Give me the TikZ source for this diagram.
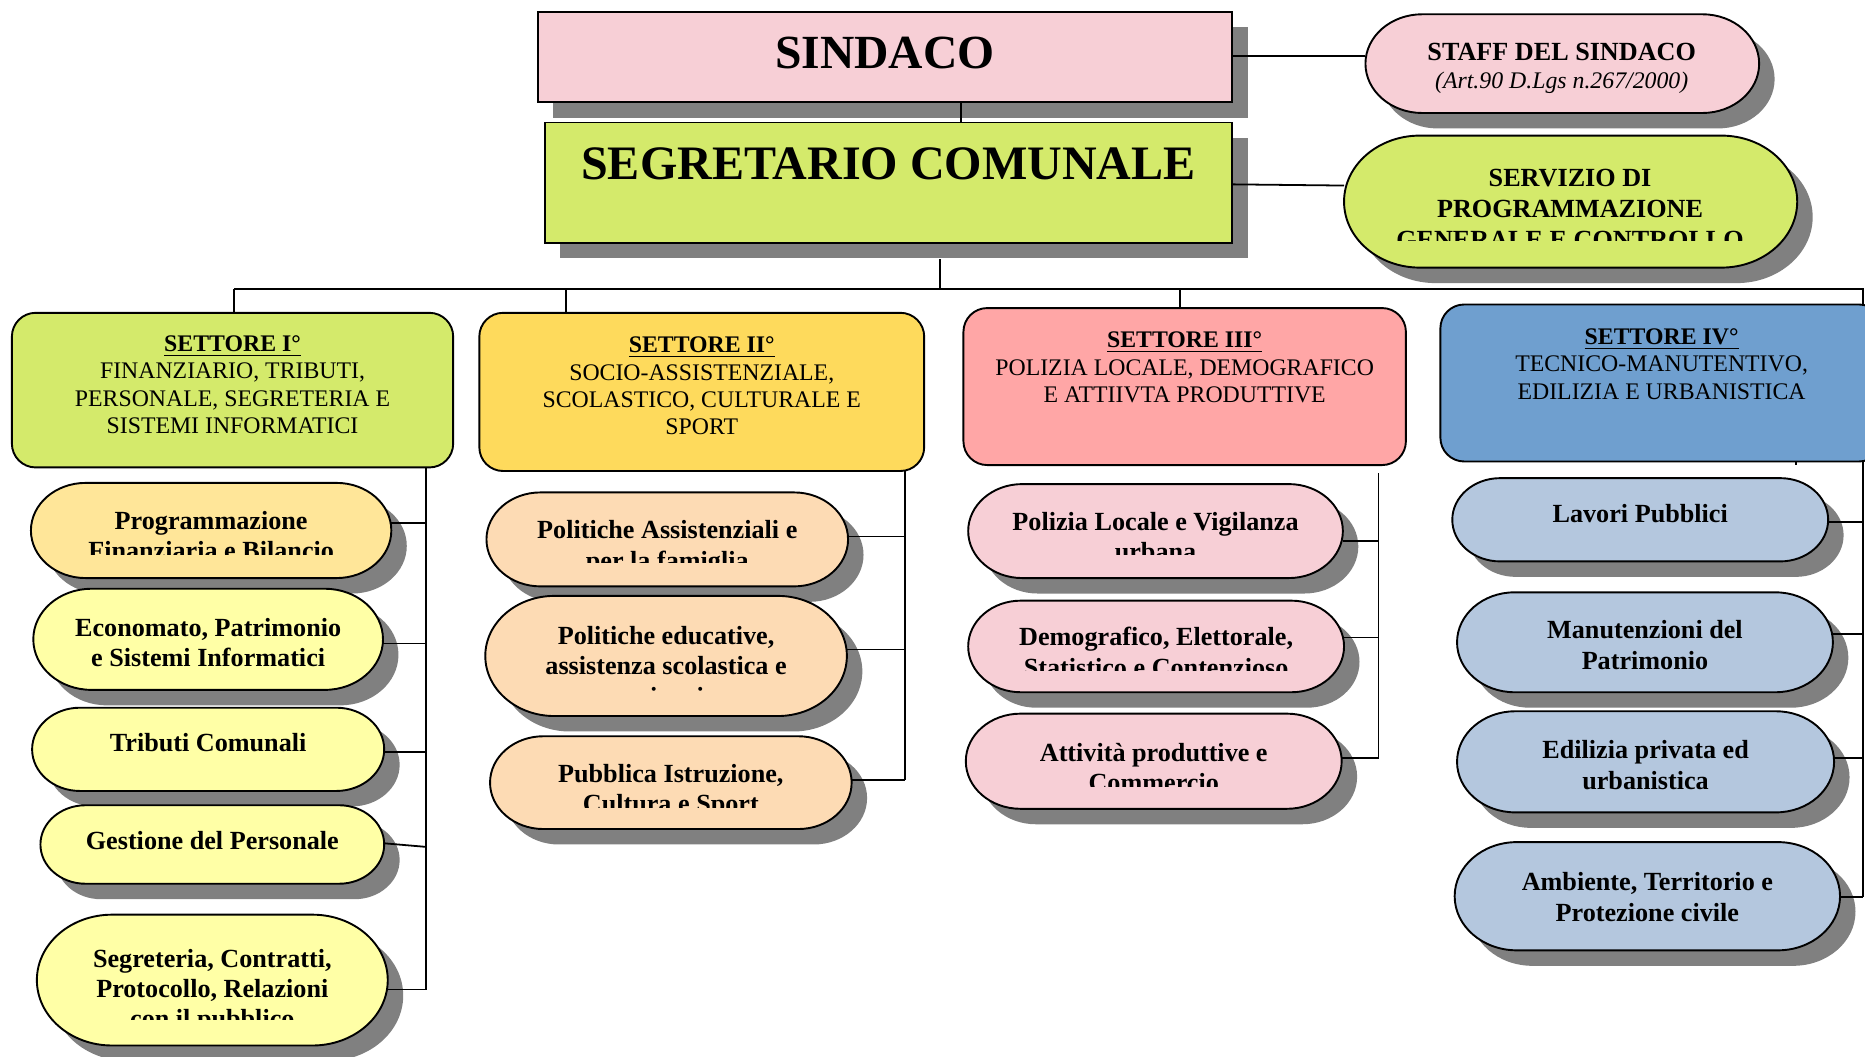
\documentclass[tikz,border=0pt]{standalone}
\usepackage{fontspec}
\setmainfont{Liberation Serif}
\definecolor{pinkA}{HTML}{F7CFD6}
\definecolor{greenA}{HTML}{D4EA6B}
\definecolor{goldA}{HTML}{FEDA5C}
\definecolor{salmonA}{HTML}{FFA6A6}
\definecolor{blueA}{HTML}{6F9FCF}
\definecolor{yellowA}{HTML}{FFE699}
\definecolor{yellowB}{HTML}{FFFFA6}
\definecolor{peachA}{HTML}{FDDBB4}
\definecolor{lblueA}{HTML}{B4C7DE}
\definecolor{shadowgray}{HTML}{808080}
\tikzset{
  shapeline/.style={draw=black, line width=0.8pt},
  conn/.style={draw=black, line width=0.75pt},
  subtxt/.style={inner sep=0pt, anchor=base, font=\fontsize{11}{12.75}\selectfont\bfseries},
  sectxt/.style={inner sep=0pt, anchor=base, font=\fontsize{10}{11.5}\selectfont},
}
\newcommand\mylines[1]{\begin{tabular}[t]{@{}c@{}}#1\end{tabular}}
% invisible named node covering a box given by corners (px)
\newcommand\namebox[5]{%
  \pgfmathsetmacro\nbX{(#2+#4)/2}%
  \pgfmathsetmacro\nbY{(#3+#5)/2}%
  \pgfmathsetmacro\nbW{(#4-#2)*0.5}%
  \pgfmathsetmacro\nbH{(#5-#3)*0.5}%
  \node[inner sep=0pt, outer sep=0pt, minimum width=\nbW pt, minimum height=\nbH pt] (#1) at (\nbX,\nbY) {};}
% stadium with shadow: name, fill, x1, y1, x2, y2
\newcommand\stadshape[6]{%
  \pgfmathsetmacro\sRy{(#6-#4)/2}%
  \pgfmathsetmacro\sRx{1.15*\sRy}%
  \pgfmathsetmacro\sA{#3+\sRx}%
  \pgfmathsetmacro\sB{#5-\sRx}%
  \pgfmathsetmacro\sRxp{\sRx*0.5}%
  \pgfmathsetmacro\sRyp{\sRy*0.5}%
  \fill[shadowgray, shift={(13,13)}] (\sA,#4) -- (\sB,#4)
     arc[start angle=90, end angle=-90, x radius=\sRxp pt, y radius=\sRyp pt]
     -- (\sA,#6) arc[start angle=270, end angle=90, x radius=\sRxp pt, y radius=\sRyp pt] -- cycle;
  \draw[shapeline, fill=#2] (\sA,#4) -- (\sB,#4)
     arc[start angle=90, end angle=-90, x radius=\sRxp pt, y radius=\sRyp pt]
     -- (\sA,#6) arc[start angle=270, end angle=90, x radius=\sRxp pt, y radius=\sRyp pt] -- cycle;
  \namebox{#1}{#3}{#4}{#5}{#6}}
% rectangle with shadow
\newcommand\rectshape[6]{%
  \fill[shadowgray, shift={(13,13)}] (#3,#4) rectangle (#5,#6);
  \draw[shapeline, fill=#2] (#3,#4) rectangle (#5,#6);
  \namebox{#1}{#3}{#4}{#5}{#6}}
% rounded sector box
\newcommand\sectorbox[6]{%
  \draw[shapeline, fill=#2, rounded corners=10pt] (#3,#4) rectangle (#5,#6);
  \namebox{#1}{#3}{#4}{#5}{#6}}
% clipped text: name, x, baseline, clip corner 1, clip corner 2, lines
\newcommand\cliptext[6]{%
  \begin{scope}
    \clip (#4) rectangle (#5);
    \node[subtxt] (#1) at (#2,#3) {\mylines{#6}};
  \end{scope}}
% branch connector: node, y at node, spine coordinate, y at spine
\newcommand\branch[4]{%
  \draw[conn] (#1.east |- 0,#2) -- (#3 |- 0,#4);}
\begin{document}
\begin{tikzpicture}[x=0.5pt, y=-0.5pt]
\clip (0,0) rectangle (1568,888);
\fill[white] (0,0) rectangle (1568,888);

% junction coordinates
\coordinate (bus) at (790,243);
\coordinate (b1) at (197,243);
\coordinate (b2) at (476,243);
\coordinate (b3) at (992,243);
\coordinate (b4) at (1566,243);
\coordinate (j1) at (358,832);
\coordinate (j2) at (761,656);
\coordinate (j3top) at (1159,398);
\coordinate (j3) at (1159,637);
\coordinate (j4) at (1566,754);

% ---------- shapes ----------
\rectshape{sind}{pinkA}{452}{10}{1036}{86}
\rectshape{segr}{greenA}{458}{103}{1036}{204}
\stadshape{staff}{pinkA}{1148}{12}{1479}{95}
\stadshape{serv}{greenA}{1130}{114}{1511}{225}

% bus lines (behind boxes)
\draw[conn] (bus |- 0,218) -- (bus);
\draw[conn] (b1) -- (b4) -- (j4);

\sectorbox{s1}{greenA}{10}{263}{381}{393}
\sectorbox{s2}{goldA}{403}{263}{777}{396}
\sectorbox{s3}{salmonA}{810}{259}{1182}{391}
\sectorbox{s4}{blueA}{1211}{256}{1583}{388}

% sub units
\stadshape{c1a}{yellowA}{26}{406}{329}{486}
\stadshape{c1b}{yellowB}{28}{495}{322}{580}
\stadshape{c1c}{yellowB}{27}{595}{323}{665}
\stadshape{c1d}{yellowB}{34}{677}{323}{743}
\stadshape{c1e}{yellowB}{31}{769}{326}{879}

\stadshape{c2a}{peachA}{409}{414}{713}{493}
\stadshape{c2b}{peachA}{408}{501}{712}{602}
\stadshape{c2c}{peachA}{412}{619}{716}{697}

\stadshape{c3a}{pinkA}{814}{407}{1129}{486}
\stadshape{c3b}{pinkA}{814}{505}{1130}{582}
\stadshape{c3c}{pinkA}{812}{600}{1128}{680}

\stadshape{c4a}{lblueA}{1221}{402}{1537}{472}
\stadshape{c4b}{lblueA}{1225}{498}{1541}{582}
\stadshape{c4c}{lblueA}{1225}{598}{1542}{683}
\stadshape{c4d}{lblueA}{1223}{708}{1547}{799}

% ---------- texts ----------
\node[inner sep=0pt, anchor=base, font=\fontsize{20}{24}\selectfont\bfseries] (sind-t) at (744,58) {SINDACO};
\node[inner sep=0pt, anchor=base, font=\fontsize{20.2}{24}\selectfont\bfseries] (segr-t) at (747,151) {SEGRETARIO COMUNALE};
\node[inner sep=0pt, anchor=base, font=\fontsize{11}{11.5}\selectfont] (staff-t) at (1313,51)
  {\mylines{\textbf{STAFF DEL SINDACO}\\{\fontsize{10}{11.5}\selectfont\itshape (Art.90 D.Lgs n.267/2000)}}};
\begin{scope}
  \clip (1130,114) rectangle (1511,202);
  \node[inner sep=0pt, anchor=base, font=\fontsize{11}{13}\selectfont\bfseries] (serv-t) at (1320,157)
    {\mylines{SERVIZIO DI\\PROGRAMMAZIONE\\GENERALE E CONTROLLO}};
\end{scope}

\node[sectxt] (s1-t) at (195.5,295.5) {\mylines{\textbf{\underline{SETTORE I°}}\\FINANZIARIO, TRIBUTI,\\PERSONALE, SEGRETERIA E\\SISTEMI INFORMATICI}};
\node[sectxt] (s2-t) at (590,296.5) {\mylines{\textbf{\underline{SETTORE II°}}\\SOCIO-ASSISTENZIALE,\\SCOLASTICO, CULTURALE E\\SPORT}};
\node[sectxt] (s3-t) at (996,292.5) {\mylines{\textbf{\underline{SETTORE III°}}\\POLIZIA LOCALE, DEMOGRAFICO\\E ATTIIVTA PRODUTTIVE}};
\node[sectxt] (s4-t) at (1397,289.5) {\mylines{\textbf{\underline{SETTORE IV°}}\\TECNICO-MANUTENTIVO,\\EDILIZIA E URBANISTICA}};

\cliptext{c1a-t}{177.5}{445}{26,406}{329,466}{Programmazione\\Finanziaria e Bilancio}
\node[subtxt] (c1b-t) at (175,535) {\mylines{Economato, Patrimonio\\e Sistemi Informatici}};
\node[subtxt] (c1c-t) at (175,632) {Tributi Comunali};
\node[subtxt] (c1d-t) at (178.5,714) {Gestione del Personale};
\cliptext{c1e-t}{178.5}{813}{31,769}{326,857}{Segreteria, Contratti,\\Protocollo, Relazioni\\con il pubblico}

\cliptext{c2a-t}{561}{453}{409,414}{713,473}{Politiche Assistenziali e\\per la famiglia}
\cliptext{c2b-t}{560}{542}{408,501}{712,581.5}{Politiche educative,\\assistenza scolastica e\\minori}
\cliptext{c2c-t}{564}{658}{412,619}{716,679}{Pubblica Istruzione,\\Cultura e Sport}

\cliptext{c3a-t}{971.5}{446}{814,407}{1129,466}{Polizia Locale e Vigilanza\\urbana}
\cliptext{c3b-t}{972}{543}{814,505}{1130,564}{Demografico, Elettorale,\\Statistico e Contenzioso}
\cliptext{c3c-t}{970}{640}{812,600}{1128,661}{Attività produttive e\\Commercio}

\node[subtxt] (c4a-t) at (1379,439) {Lavori Pubblici};
\node[subtxt] (c4b-t) at (1383,537) {\mylines{Manutenzioni del\\Patrimonio}};
\node[subtxt] (c4c-t) at (1383.5,638) {\mylines{Edilizia privata ed\\urbanistica}};
\node[subtxt] (c4d-t) at (1385,749) {\mylines{Ambiente, Territorio e\\Protezione civile}};

% ---------- connectors ----------
\draw[conn] (sind.east |- 0,47) -- (staff.west |- 0,47);
\draw[conn] (sind.south -| 808,0) -- (segr.north -| 808,0);
\draw[conn] (segr.east |- 0,155) -- (serv.west |- 0,156);

\draw[conn] (b1) -- (s1.north -| b1);
\draw[conn] (b2) -- (s2.north -| b2);
\draw[conn] (b3) -- (s3.north -| b3);
\draw[conn] (b4) -- (s4.north -| b4);
\draw[conn] (s4.south -| 1510,0) -- ++(0,3);

\draw[conn] (s1.south -| j1) -- (j1);
\draw[conn] (s2.south -| j2) -- (j2);
\draw[conn] (j3top) -- (j3);
\draw[conn] (s4.south -| j4) -- (j4);

\branch{c1a}{440}{j1}{440}
\branch{c1b}{541}{j1}{541}
\branch{c1c}{632}{j1}{632}
\branch{c1d}{709}{j1}{712}
\branch{c1e}{832}{j1}{832}

\branch{c2a}{451}{j2}{451}
\branch{c2b}{546}{j2}{546}
\branch{c2c}{656}{j2}{656}

\branch{c3a}{455}{j3}{455}
\branch{c3b}{536}{j3}{536}
\branch{c3c}{637}{j3}{637}

\branch{c4a}{439}{j4}{439}
\branch{c4b}{533}{j4}{533}
\branch{c4c}{637}{j4}{637}
\branch{c4d}{754}{j4}{754}
\end{tikzpicture}
\end{document}
